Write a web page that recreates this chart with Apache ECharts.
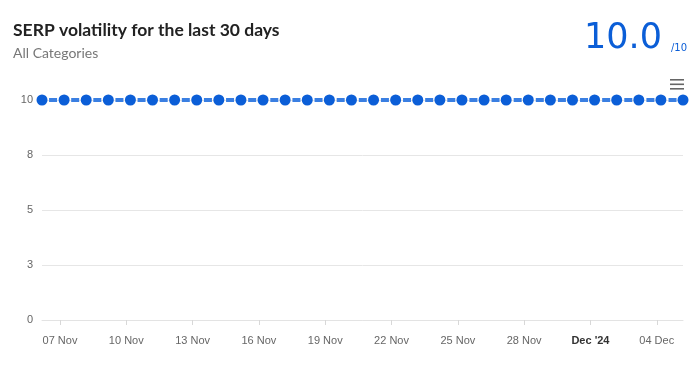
<!DOCTYPE html>
<html>
<head>
<meta charset="utf-8">
<script src="https://cdn.jsdelivr.net/npm/echarts@6/dist/echarts.min.js"></script>
<style>
html,body{margin:0;padding:0;background:#fff;}
#chart{width:700px;height:366px;}
</style>
</head>
<body>
<div id="chart"></div>
<script>
// Data
var pointDates = [
  '2024-11-06','2024-11-07','2024-11-08','2024-11-09','2024-11-10','2024-11-11',
  '2024-11-12','2024-11-13','2024-11-14','2024-11-15','2024-11-16','2024-11-17',
  '2024-11-18','2024-11-19','2024-11-20','2024-11-21','2024-11-22','2024-11-23',
  '2024-11-24','2024-11-25','2024-11-26','2024-11-27','2024-11-28','2024-11-29',
  '2024-11-30','2024-12-01','2024-12-02','2024-12-03','2024-12-04','2024-12-05'
];
var sampleTime = 'T04:30:00Z';
var volatility = [10,10,10,10,10,10,10,10,10,10,10,10,10,10,10,10,10,10,10,10,10,10,10,10,10,10,10,10,10,10];
var tickDates = ['2024-11-07','2024-11-10','2024-11-13','2024-11-16','2024-11-19','2024-11-22','2024-11-25','2024-11-28','2024-12-01','2024-12-04'];
var tickLabels = ['07 Nov','10 Nov','13 Nov','16 Nov','19 Nov','22 Nov','25 Nov','28 Nov',"Dec '24",'04 Dec'];
var boldTicks = ["Dec '24"];
var titleText = 'SERP volatility for the last 30 days';
var subtitleText = 'All Categories';
var scoreText = '10.0';
var scoreMax = '/10';

var pts = pointDates.map(function (d, i) { return [Date.parse(d + sampleTime), volatility[i]]; });
var tickTs = tickDates.map(function (d) { return Date.parse(d + 'T00:00:00Z'); });

var chart = echarts.init(document.getElementById('chart'), null, {renderer: 'canvas'});
var spacing = (683.3 - 41.7) / 29;
chart.setOption({
  animation: false,
  grid: {left: 42, right: 17, top: 100, bottom: 46},
  graphic: [
    {type: 'text', left: 13, top: 21, style: {text: titleText, font: 'bold 17.5px Lato', fill: '#222'}},
    {type: 'text', left: 13, top: 46, style: {text: subtitleText, font: '14px Lato', fill: '#777'}},
    {type: 'text', right: 38, top: 21, style: {text: scoreText, font: '35px "DejaVu Sans"', fill: '#0b5ed7'}},
    {type: 'text', right: 13, top: 43, style: {text: scoreMax, font: '10px "DejaVu Sans"', fill: '#0b5ed7'}},
    {type: 'group', right: 16, top: 79, children: [
      {type: 'rect', shape: {x: 0, y: 0, width: 14, height: 1.6}, style: {fill: '#666'}},
      {type: 'rect', shape: {x: 0, y: 4.5, width: 14, height: 1.6}, style: {fill: '#666'}},
      {type: 'rect', shape: {x: 0, y: 9, width: 14, height: 1.6}, style: {fill: '#666'}}
    ]}
  ],
  xAxis: {
    type: 'value',
    min: pts[0][0],
    max: pts[pts.length - 1][0],
    axisLine: {lineStyle: {color: '#e3e3e3', width: 1}},
    axisTick: {show: true, customValues: tickTs, length: 5, lineStyle: {color: '#d8d8d8'}},
    splitLine: {show: false},
    axisLabel: {
      customValues: tickTs,
      margin: 15,
      color: '#666',
      fontSize: 11,
      fontFamily: 'Liberation Sans, Arial, sans-serif',
      formatter: function (v) {
        var idx = tickTs.indexOf(v);
        var t = idx >= 0 ? tickLabels[idx] : '';
        return boldTicks.indexOf(t) >= 0 ? '{b|' + t + '}' : t;
      },
      rich: {b: {fontWeight: 'bold', color: '#333', fontSize: 11, fontFamily: 'Liberation Sans, Arial, sans-serif'}}
    }
  },
  yAxis: {
    type: 'value',
    min: 0,
    max: 10,
    interval: 2.5,
    axisLine: {show: false},
    axisTick: {show: false},
    splitLine: {lineStyle: {color: '#e6e6e6', width: 1}},
    axisLabel: {
      margin: 9,
      color: '#666',
      fontSize: 11,
      fontFamily: 'Liberation Sans, Arial, sans-serif',
      formatter: function (v) { return String(Math.round(v)); }
    }
  },
  series: [{
    type: 'line',
    data: pts,
    clip: false,
    symbol: 'circle',
    symbolSize: 11,
    itemStyle: {color: '#0b5ed7'},
    lineStyle: {color: '#3a7fe2', width: 4, type: [8, spacing - 8], dashOffset: spacing - (spacing - 8) / 2},
    z: 3
  }]
});
</script>
</body>
</html>
